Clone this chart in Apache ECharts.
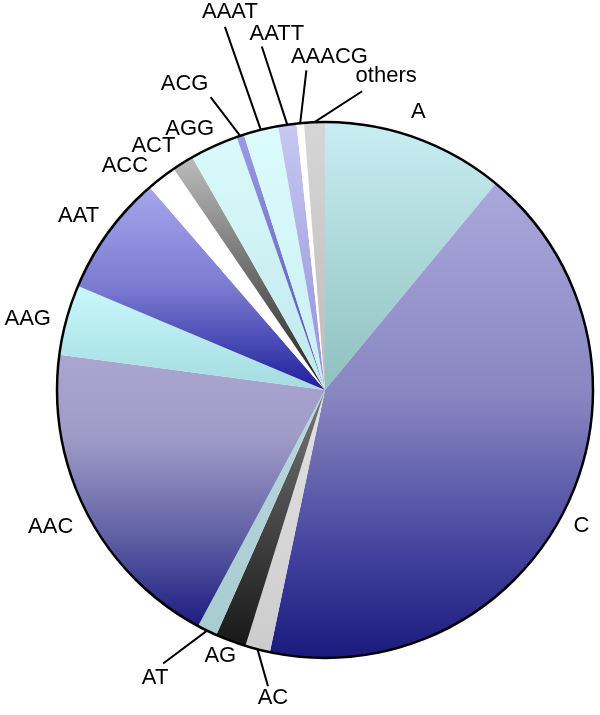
<!DOCTYPE html>
<html>
<head>
<meta charset="utf-8">
<script src="https://cdn.jsdelivr.net/npm/echarts@6/dist/echarts.min.js"></script>
<style>
  html, body { margin: 0; padding: 0; background: #fff; }
  #chart { width: 600px; height: 715px; }
</style>
</head>
<body>
<div id="chart"></div>
<script>
  // motifs, clockwise from 12 o'clock, share in %
  var motifs = ['A', 'C', 'AC', 'AG', 'AT', 'AAC', 'AAG', 'AAT', 'ACC', 'ACT', 'AGG', 'ACG', 'AAAT', 'AATT', 'AAACG', 'others'];
  var shares = [11.0, 42.3, 1.5, 1.85, 1.2, 19.25, 4.25, 7.3, 1.8, 1.3, 2.9, 0.45, 2.1, 1.1, 0.45, 1.25];

  // vertical gradient stops for each slice
  var fills = {
    A:      [[0, '#c8eef2'], [1, '#90c0c0']],
    C:      [[0, '#aaa8dc'], [0.45, '#8886c0'], [0.8, '#3e3e9a'], [1, '#1a1a7e']],
    AC:     [[0, '#e2e2e2'], [1, '#cccccc']],
    AG:     [[0, '#787878'], [1, '#181818']],
    AT:     [[0, '#b8d8dc'], [1, '#a8ccd0']],
    AAC:    [[0, '#aaa6d0'], [0.3, '#a09cc8'], [0.65, '#6464a6'], [1, '#1c1c80']],
    AAG:    [[0, '#c8f8fa'], [1, '#a4dce0']],
    AAT:    [[0, '#a6a6ec'], [0.5, '#7a7ad0'], [1, '#1e1e9c']],
    ACC:    [[0, '#ffffff'], [1, '#ffffff']],
    ACT:    [[0, '#bcbcbc'], [1, '#202020']],
    AGG:    [[0, '#dafafa'], [1, '#c0e8ec']],
    ACG:    [[0, '#9c9ce4'], [1, '#4a4ab8']],
    AAAT:   [[0, '#dcfcfc'], [1, '#c8eef2']],
    AATT:   [[0, '#c8c8f2'], [1, '#9090d8']],
    AAACG:  [[0, '#ffffff'], [1, '#ffffff']],
    others: [[0, '#d6d6d6'], [1, '#bcbcbc']]
  };

  // label placement: radial length, bend of the line end, text offset from line end, visible line
  var tweaks = {
    A:      { len: 25,  bend: [0, 0],   off: [-6, -2],   line: false },
    C:      { len: 21,  bend: [0, 0],   off: [-4, 10],   line: false },
    AC:     { len: 34,  bend: [19, 4],  off: [5, 12],    line: true },
    AG:     { len: 18,  bend: [0, 0],   off: [-4, -2],   line: false },
    AT:     { len: 50,  bend: [-22, -12], off: [-8, 14], line: true },
    AAC:    { len: 39,  bend: [0, 0],   off: [-1, -3],   line: false },
    AAG:    { len: 38,  bend: [0, 0],   off: [-2, 9],    line: false },
    AAT:    { len: 34,  bend: [0, 0],   off: [-2, 3],    line: false },
    ACC:    { len: 32,  bend: [0, 0],   off: [-17, 14],  line: false },
    ACT:    { len: 31,  bend: [0, 0],   off: [-13, 9],   line: false },
    AGG:    { len: 27,  bend: [0, 0],   off: [-13, 7],   line: false },
    ACG:    { len: 46,  bend: [-15, 5], off: [-26, -13], line: true },
    AAAT:   { len: 108, bend: [-10, 2], off: [5, -15],   line: true },
    AATT:   { len: 81,  bend: [-14, 2], off: [15, -13],  line: true },
    AAACG:  { len: 52,  bend: [11, -1], off: [23, -13],  line: true },
    others: { len: 33,  bend: [49, 2],  off: [24, -15],  line: true }
  };

  var pieCenter = [325, 390];
  var pieRadius = 268;

  var chart = echarts.init(document.getElementById('chart'));

  var data = motifs.map(function (name, i) {
    var t = tweaks[name];
    return {
      name: name,
      value: shares[i],
      itemStyle: {
        color: {
          type: 'linear', x: 0, y: 0, x2: 0, y2: 1,
          colorStops: fills[name].map(function (s) { return { offset: s[0], color: s[1] }; })
        }
      },
      labelLine: {
        show: true,
        length: t.len,
        length2: 0,
        lineStyle: { color: '#000', width: 2, opacity: t.line ? 1 : 0 }
      }
    };
  });

  var option = {
    animation: false,
    backgroundColor: '#fff',
    series: [
      {
        type: 'pie',
        center: pieCenter,
        radius: pieRadius,
        startAngle: 90,
        clockwise: true,
        avoidLabelOverlap: false,
        silent: true,
        itemStyle: { borderWidth: 0 },
        label: {
          show: true,
          position: 'outside',
          color: '#000',
          fontFamily: 'Liberation Sans',
          fontSize: 22,
          distanceToLabelLine: 0
        },
        labelLayout: function (params) {
          var t = tweaks[motifs[params.dataIndex]];
          var p = params.labelLinePoints;
          if (!p) return {};
          var end = [p[1][0] + t.bend[0], p[1][1] + t.bend[1]];
          return {
            x: end[0] + t.off[0],
            y: end[1] + t.off[1],
            align: 'center',
            verticalAlign: 'middle',
            labelLinePoints: [p[0], end]
          };
        },
        data: data
      },
      {
        // black rim round the pie
        type: 'pie',
        center: pieCenter,
        radius: pieRadius,
        silent: true,
        label: { show: false },
        labelLine: { show: false },
        itemStyle: { color: 'rgba(0,0,0,0)', borderColor: '#000', borderWidth: 2.5 },
        data: [{ value: 1 }]
      }
    ]
  };

  chart.setOption(option);
</script>
</body>
</html>
